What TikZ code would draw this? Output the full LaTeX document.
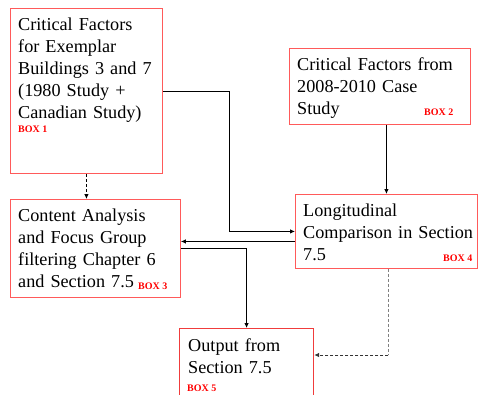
\documentclass[tikz,border=0pt]{standalone}
\usepackage{fontspec}
\setmainfont{Liberation Serif}
\usetikzlibrary{arrows.meta}
\definecolor{boxred}{HTML}{FF5A5A}
\definecolor{boxredd}{HTML}{F03C3C}
\definecolor{labred}{HTML}{FF0000}
\begin{document}
\begin{tikzpicture}[x=1pt,y=1pt,
  stagebox/.style={draw=boxred, line width=0.9pt, rectangle, anchor=north west, inner sep=0},
  body/.style={anchor=base west, inner sep=0, text width=#1, align=left,
    font=\fontsize{18.2}{22}\selectfont},
  tag/.style={anchor=base west, inner sep=0, text=labred,
    font=\fontsize{10}{12}\selectfont\bfseries},
  link/.style={line width=0.8pt, -{Latex[length=5pt,width=4.5pt]}},
  dashlink/.style={line width=0.8pt, dash pattern=on 3pt off 2pt}]
\useasboundingbox (0,0) rectangle (478,-394);

% boxes
\node[stagebox, minimum width=152pt, minimum height=165pt] (box1) at (10,-8) {};
\node[stagebox, minimum width=181pt, minimum height=76pt] (box2) at (289,-48) {};
\node[stagebox, minimum width=170pt, minimum height=98pt] (box3) at (10,-199) {};
\node[stagebox, minimum width=182pt, minimum height=74pt] (box4) at (295,-194) {};
\node[stagebox, draw=boxredd, line width=1.2pt, minimum width=134pt, minimum height=80pt] (box5) at (179,-328) {};

% box texts
\node[body=150pt] (t1) at (18,-30.7) {Critical Factors\\for Exemplar\\Buildings 3 and 7\\(1980 Study +\\Canadian Study)};
\node[tag] (l1) at (18,-132) {BOX 1};
\node[body=180pt] (t2) at (297,-70.7) {Critical Factors from\\2008-2010 Case\\Study};
\node[tag] (l2) at (424,-115) {BOX 2};
\node[body=180pt] (t3) at (18,-221.7) {Content Analysis\\and Focus Group\\filtering Chapter 6\\and Section 7.5};
\node[tag] (l3) at (138,-289) {BOX 3};
\node[body=180pt] (t4) at (303,-216) {Longitudinal\\Comparison in Section\\7.5};
\node[tag] (l4) at (443,-261) {BOX 4};
\node[body=130pt] (t5) at (188,-351) {Output from\\Section 7.5};
\node[tag] (l5) at (187,-391) {BOX 5};

% connectors
\draw[link, dashlink] (box1.south) -- (box1.south |- box3.north);
\draw[link] (box1.east) -- ++(66,0) |- (box4.west);
\draw[link] (box2.south -| box4.north) -- (box4.north);
\draw[link] ([yshift=-10pt]box4.west) -- ([yshift=-10pt]box4.west -| box3.east);
\draw[link] (box3.east) -| (box5.north);
\path ([xshift=2pt]box4.south) |- coordinate[pos=0.5] (turn) ([yshift=-27pt]box5.north east);
\draw[dashlink, gray] ([xshift=2pt]box4.south) -- (turn);
\draw[link, dashlink, black!80] (turn) -- ([yshift=-27pt]box5.north east);
\end{tikzpicture}
\end{document}
